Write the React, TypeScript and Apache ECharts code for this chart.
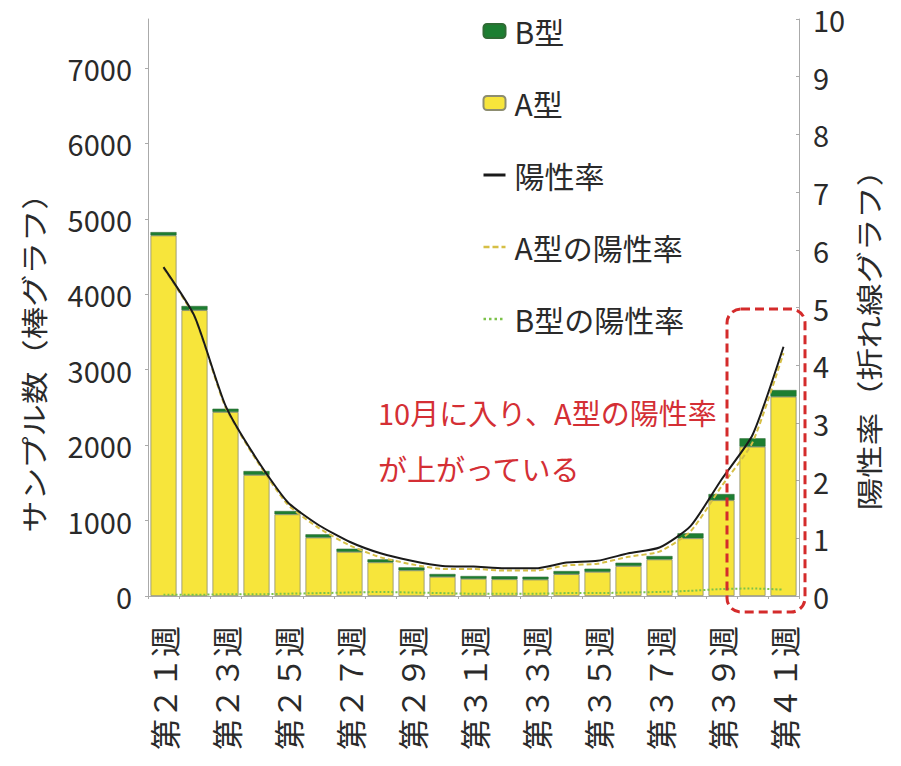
import React, { useEffect, useRef } from "react";
import * as echarts from "echarts";

// Weekly sample counts (stacked bars) and positivity rates (lines)
const weeks = [
  "第２１週", "第２２週", "第２３週", "第２４週", "第２５週", "第２６週", "第２７週",
  "第２８週", "第２９週", "第３０週", "第３１週", "第３２週", "第３３週", "第３４週",
  "第３５週", "第３６週", "第３７週", "第３８週", "第３９週", "第４０週", "第４１週",
];
const samplesA = [4780, 3790, 2440, 1605, 1083, 775, 585, 446, 340, 255, 228, 222, 218, 290, 320, 398, 485, 765, 1270, 1980, 2643];
const samplesB = [45, 55, 43, 52, 44, 43, 42, 40, 40, 37, 37, 39, 38, 41, 42, 43, 45, 66, 82, 111, 88];
const rateAll = [5.7, 4.85, 3.3, 2.38, 1.63, 1.23, 0.94, 0.74, 0.61, 0.52, 0.51, 0.48, 0.48, 0.58, 0.61, 0.74, 0.84, 1.21, 2.02, 2.79, 4.32];
const rateA = [5.68, 4.83, 3.27, 2.35, 1.59, 1.18, 0.88, 0.67, 0.55, 0.47, 0.47, 0.44, 0.44, 0.53, 0.56, 0.68, 0.77, 1.12, 1.9, 2.66, 4.21];
const rateB = [0.02, 0.02, 0.03, 0.03, 0.04, 0.05, 0.06, 0.07, 0.06, 0.05, 0.04, 0.04, 0.04, 0.05, 0.05, 0.06, 0.07, 0.09, 0.12, 0.13, 0.11];

const FONT = '"Noto Sans CJK JP", "Noto Sans", sans-serif';
const TEXT = "#2a2a2a";
const AXIS = "#aaaaaa";
const HIDDEN_MARKER = { color: "rgba(0,0,0,0)", borderWidth: 0, borderColor: "rgba(0,0,0,0)" };

export default function App() {
  const ref = useRef<HTMLDivElement>(null);

  useEffect(() => {
    if (!ref.current) return;
    const chart = echarts.init(ref.current, undefined, { renderer: "svg" });
    chart.setOption({
      animation: false,
      backgroundColor: "#ffffff",
      textStyle: { fontFamily: FONT },
      grid: { left: 148, right: 102, top: 19, bottom: 170 },
      legend: {
        orient: "vertical",
        left: 477,
        top: 10,
        itemWidth: 22,
        itemHeight: 14,
        itemGap: 40,
        data: [
          { name: "B型" },
          { name: "A型" },
          { name: "陽性率", itemStyle: HIDDEN_MARKER, lineStyle: { width: 3 } },
          { name: "A型の陽性率", itemStyle: HIDDEN_MARKER, lineStyle: { width: 2.5, type: [6, 3] } },
          { name: "B型の陽性率", itemStyle: HIDDEN_MARKER, lineStyle: { width: 2.5, type: [2.5, 3] } },
        ],
        textStyle: { fontSize: 30, color: TEXT, fontFamily: FONT, lineHeight: 32, padding: [0, 0, 0, 4] },
      },
      xAxis: {
        type: "category",
        data: weeks,
        boundaryGap: true,
        axisLine: { lineStyle: { color: AXIS, width: 1 } },
        axisTick: { show: true, interval: 0, length: 3, lineStyle: { color: AXIS } },
        axisLabel: {
          interval: 1,
          rotate: 90,
          margin: 30,
          fontSize: 31,
          color: TEXT,
          fontFamily: FONT,
        },
      },
      yAxis: [
        {
          type: "value",
          min: 0,
          max: 7650,
          interval: 1000,
          splitLine: { show: false },
          axisLine: { show: true, lineStyle: { color: AXIS } },
          axisTick: { show: true, length: 3, lineStyle: { color: AXIS } },
          axisLabel: {
            margin: 16,
            fontSize: 29,
            color: TEXT,
            fontFamily: FONT,
            showMaxLabel: false,
            formatter: (v: number) => (v % 1000 === 0 ? String(v) : ""),
          },
        },
        {
          type: "value",
          min: 0,
          max: 10,
          interval: 1,
          splitLine: { show: false },
          axisLine: { show: true, lineStyle: { color: AXIS } },
          axisTick: { show: true, inside: true, length: 3, lineStyle: { color: AXIS } },
          axisLabel: { margin: 14, fontSize: 29, color: TEXT, fontFamily: FONT },
        },
      ],
      series: [
        {
          name: "A型",
          type: "bar",
          stack: "samples",
          data: samplesA,
          barCategoryGap: "16%",
          itemStyle: { color: "#f7e53b", borderColor: "#8d8d70", borderWidth: 0.8 },
          z: 2,
        },
        {
          name: "B型",
          type: "bar",
          stack: "samples",
          data: samplesB,
          itemStyle: { color: "#1c7e31", borderColor: "#2f6b34", borderWidth: 0.6 },
          z: 2,
        },
        {
          name: "陽性率",
          type: "line",
          yAxisIndex: 1,
          data: rateAll,
          smooth: 0.2,
          symbol: "none",
          lineStyle: { color: "#1a1a1a", width: 2 },
          itemStyle: { color: "#1a1a1a" },
          z: 5,
        },
        {
          name: "A型の陽性率",
          type: "line",
          yAxisIndex: 1,
          data: rateA,
          smooth: 0.2,
          symbol: "none",
          lineStyle: { color: "#d6bf45", width: 2, type: [5, 3] },
          itemStyle: { color: "#e2c63c" },
          z: 4,
        },
        {
          name: "B型の陽性率",
          type: "line",
          yAxisIndex: 1,
          data: rateB,
          smooth: 0.2,
          symbol: "none",
          lineStyle: { color: "#7cc24a", width: 2, type: [2, 2] },
          itemStyle: { color: "#8cc860" },
          z: 4,
        },
      ],
      graphic: [
        {
          type: "text",
          x: 33,
          y: 355,
          rotation: Math.PI / 2,
          scaleX: 1.2,
          style: {
            text: "サンプル数（棒グラフ）",
            fontSize: 27,
            fontFamily: FONT,
            fill: TEXT,
            align: "center",
            verticalAlign: "middle",
          },
        },
        {
          type: "text",
          x: 868,
          y: 332,
          rotation: Math.PI / 2,
          scaleX: 1.2,
          style: {
            text: "陽性率（折れ線グラフ）",
            fontSize: 27,
            fontFamily: FONT,
            fill: TEXT,
            align: "center",
            verticalAlign: "middle",
          },
        },
        {
          type: "text",
          x: 378,
          y: 412,
          style: {
            text: "10月に入り、A型の陽性率",
            fontSize: 29,
            fontFamily: FONT,
            fill: "#d42f35",
            align: "left",
            verticalAlign: "middle",
          },
        },
        {
          type: "text",
          x: 378,
          y: 468,
          style: {
            text: "が上がっている",
            fontSize: 29,
            fontFamily: FONT,
            fill: "#d42f35",
            align: "left",
            verticalAlign: "middle",
          },
        },
        {
          type: "rect",
          shape: { x: 727, y: 309, width: 78, height: 303, r: 14 },
          style: { fill: "none", stroke: "#d42b2b", lineWidth: 3, lineDash: [9, 5] },
          z: 10,
        },
      ],
    });
    return () => chart.dispose();
  }, []);

  return (
    <div
      ref={ref}
      style={{ position: "fixed", left: 0, top: 0, width: 901, height: 766, background: "#fff" }}
    />
  );
}
